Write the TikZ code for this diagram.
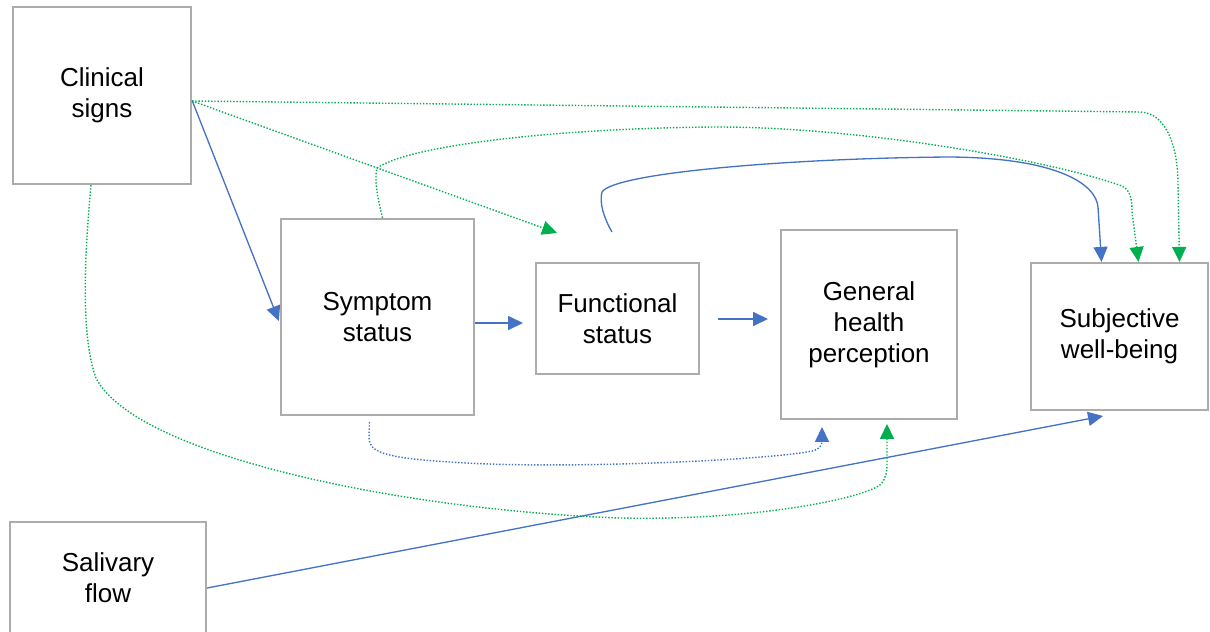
\documentclass[tikz,border=0pt]{standalone}
\usepackage{fontspec}
\setmainfont{Liberation Sans}
\usetikzlibrary{arrows.meta,calc}
\definecolor{boxgray}{RGB}{175,171,171}
\definecolor{linkblue}{RGB}{68,114,196}
\definecolor{linkgreen}{RGB}{0,176,80}
\tikzset{
  factor/.style={draw=boxgray, line width=1.3pt, fill=white, align=center,
    inner sep=0pt, font=\fontsize{14.8}{17.6}\selectfont},
  headed/.style={-{Triangle[length=8.5pt,width=8pt]}},
  bluelink/.style={headed, draw=linkblue, line width=0.75pt},
  bluedot/.style={headed, draw=linkblue, line width=0.8pt, densely dotted},
  greendot/.style={headed, draw=linkgreen, line width=0.8pt, densely dotted},
}
\begin{document}
\begin{tikzpicture}[x=0.02cm,y=-0.02cm]
\clip (0,0) rectangle (1210,632);
\fill[white] (0,0) rectangle (1210,632);

% factors of the model
\node[factor, minimum width=3.56cm, minimum height=3.54cm] (clin) at (102,95.5) {Clinical\\signs};
\node[factor, minimum width=3.86cm, minimum height=3.92cm] (sym) at (377.5,317) {Symptom\\status};
\node[factor, minimum width=3.26cm, minimum height=2.22cm] (func) at (617.5,318.5) {Functional\\status};
\node[factor, minimum width=3.52cm, minimum height=3.78cm] (gen) at (869,324.5) {General\\health\\perception};
\node[factor, minimum width=3.54cm, minimum height=2.94cm] (sw) at (1119.5,336.5) {Subjective\\well-being};
\node[factor, minimum width=3.92cm, minimum height=2.24cm] (sal) at (108,578) {Salivary\\flow};

% free ends of the connectors
\coordinate (fsin) at (523,323);
\coordinate (fsout) at (718,319);
\coordinate (ghin) at (768,319);
\coordinate (fstop) at (612,232);
\coordinate (ffin) at (557,233);
\coordinate (swbase) at (1103,416);
\coordinate (ghbot1) at (822,427);
\coordinate (ghbot2) at (887,424);

% direct paths
\draw[bluelink] ($(clin.east)+(0,5)$) -- ($(sym.west)+(-1,4)$);
\draw[bluelink] ($(sym.east)+(0,6)$) -- (fsin);
\draw[bluelink] (fsout) -- (ghin);
\draw[bluelink] ($(sal.east)+(0,10)$) -- (swbase);
\draw[bluelink] (fstop) .. controls (604,218) and (599,203) .. (602,192)
  .. controls (615,172) and (800,158) .. (950,157)
  .. controls (1060,158) and (1096,185) .. (1098,207) -- ($(sw.north)+(-18,0)$);

% indirect paths from clinical signs
\draw[greendot] ($(clin.east)+(0,5.5)$) -- (1140,112)
  .. controls (1168,113) and (1178,150) .. (1178,185) -- ($(sw.north)+(60,0)$);
\draw[greendot] ($(clin.east)+(0,5.5)$) -- (ffin);
\draw[greendot] ($(clin.south)+(-11,0)$) .. controls (85,250) and (80,335) .. (96,378)
  .. controls (135,455) and (400,510) .. (620,518)
  .. controls (760,521) and (868,497) .. (881,484)
  .. controls (886,478) and (887,472) .. (887,462) -- (ghbot2);

% indirect paths from symptom status
\draw[greendot] ($(sym.north)+(5,0)$) .. controls (378,200) and (374,180) .. (377,168)
  .. controls (410,145) and (560,128) .. (717,127)
  .. controls (860,127) and (1050,160) .. (1122,186)
  .. controls (1130,190) and (1132,198) .. (1132,212) -- ($(sw.north)+(19,0)$);
\draw[bluedot] ($(sym.south)+(-8,6)$) -- (369,438)
  .. controls (369,452) and (385,458) .. (450,462)
  .. controls (560,470) and (770,460) .. (812,451)
  .. controls (820,449) and (822,446) .. (822,440) -- (ghbot1);
\end{tikzpicture}
\end{document}
